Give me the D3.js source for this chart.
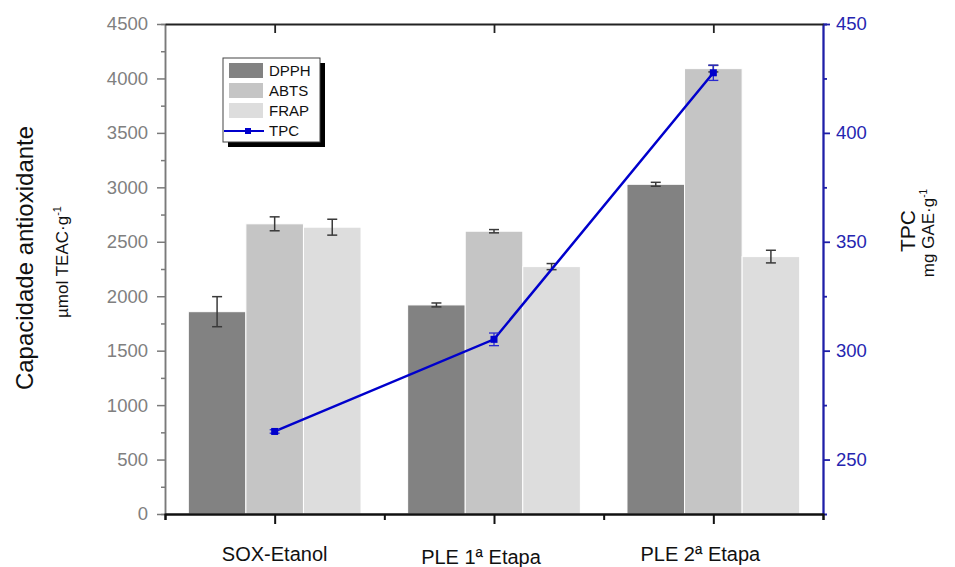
<!DOCTYPE html>
<html>
<head>
<meta charset="utf-8">
<script src="https://cdn.jsdelivr.net/npm/d3@7"></script>
<style>
body { margin: 0; background: #fff; }
text { font-family: "Liberation Sans", Arial, sans-serif; }
</style>
</head>
<body>
<script>
var width = 955;
var height = 567;

var categories = ["SOX-Etanol", "PLE 1ª Etapa", "PLE 2ª Etapa"];
var seriesNames = ["DPPH", "ABTS", "FRAP"];
var seriesColors = ["#828282", "#c5c5c5", "#dddddd"];
var dpph = [1858, 1920, 3028];
var dpphErr = [138, 18, 18];
var abts = [2665, 2597, 4090];
var abtsErr = [64, 15, 30];
var frap = [2634, 2272, 2364];
var frapErr = [73, 28, 58];
var tpc = [262.9, 305.2, 427.6];
var tpcErr = [0.8, 2.9, 3.5];
var leftTicks = [0, 500, 1000, 1500, 2000, 2500, 3000, 3500, 4000, 4500];
var rightTicks = [250, 300, 350, 400, 450];

var series = [
    {name: seriesNames[0], color: seriesColors[0], values: dpph, err: dpphErr},
    {name: seriesNames[1], color: seriesColors[1], values: abts, err: abtsErr},
    {name: seriesNames[2], color: seriesColors[2], values: frap, err: frapErr},
];
var bw = 0.2625;
var tpcColor = "#0000cc";
var rightColor = "#1f1fa8";

var x = d3.scaleLinear().domain([0.5, 3.5]).range([165, 823]);
var yL = d3.scaleLinear().domain([0, 4500]).range([514, 24]);
var yR = d3.scaleLinear().domain([225, 450]).range([514, 24]);

var svg = d3.select("body").append("svg")
    .attr("width", width)
    .attr("height", height)
;

// bars
var bars = [];
series.forEach(function(s, j) {
    s.values.forEach(function(v, i) {
        bars.push({x0: i + 1 + (j - 1.5) * bw, x1: i + 1 + (j - 0.5) * bw, v: v, e: s.err[i], color: s.color});
    });
});

svg.append("g").selectAll("rect")
    .data(bars)
    .enter().append("rect")
    .attr("x", d => x(d.x0))
    .attr("width", d => x(d.x1) - x(d.x0))
    .attr("y", d => yL(d.v))
    .attr("height", d => yL(0) - yL(d.v))
    .attr("fill", d => d.color)
    .attr("stroke", "#fff")
    .attr("stroke-width", 1)
;

function errorBars(g, data, xf, yf, color, width) {
    var eb = g.selectAll("g").data(data).enter().append("g")
        .attr("stroke", color)
        .attr("stroke-width", width);
    eb.append("line")
        .attr("x1", xf).attr("x2", xf)
        .attr("y1", d => yf(d.v + d.e)).attr("y2", d => yf(d.v - d.e));
    eb.append("line")
        .attr("x1", d => xf(d) - 5).attr("x2", d => xf(d) + 5)
        .attr("y1", d => yf(d.v + d.e)).attr("y2", d => yf(d.v + d.e));
    eb.append("line")
        .attr("x1", d => xf(d) - 5).attr("x2", d => xf(d) + 5)
        .attr("y1", d => yf(d.v - d.e)).attr("y2", d => yf(d.v - d.e));
}

errorBars(svg.append("g"), bars, d => x((d.x0 + d.x1) / 2), yL, "#3a3a3a", 1.5);

// TPC line
var tpcData = tpc.map((v, i) => ({c: i + 1, v: v, e: tpcErr[i]}));
var line = d3.line()
    .x(d => x(d.c))
    .y(d => yR(d.v))
;
svg.append("path")
    .datum(tpcData)
    .attr("d", line)
    .attr("fill", "none")
    .attr("stroke", tpcColor)
    .attr("stroke-width", 2.5)
;
errorBars(svg.append("g"), tpcData, d => x(d.c), yR, "#2a2ad0", 1.3);
svg.append("g").selectAll("rect")
    .data(tpcData)
    .enter().append("rect")
    .attr("x", d => x(d.c) - 3.5)
    .attr("y", d => yR(d.v) - 3.5)
    .attr("width", 7)
    .attr("height", 7)
    .attr("fill", tpcColor)
;

// axes
function styleAxis(g, color, w) {
    g.selectAll("path").attr("stroke", color).attr("stroke-width", w);
    g.selectAll("line").attr("stroke", color).attr("stroke-width", w);
}

var gl = svg.append("g")
    .attr("transform", `translate(${x(0.5)},0)`)
    .call(d3.axisLeft(yL).tickValues(leftTicks).tickFormat(d3.format("d")).tickSize(8).tickSizeOuter(0).tickPadding(9));
styleAxis(gl, "#7a7a7a", 1.5);
gl.selectAll("text").attr("fill", "#808080").attr("font-size", 18.5).style("font-family", "Liberation Sans, Arial, sans-serif");
var glm = svg.append("g")
    .attr("transform", `translate(${x(0.5)},0)`)
    .call(d3.axisLeft(yL).tickValues(leftTicks.slice(1).map(d => d - 250)).tickSize(4).tickFormat(""));
styleAxis(glm, "#7a7a7a", 1.5);

var gr = svg.append("g")
    .attr("transform", `translate(${x(3.5)},0)`)
    .call(d3.axisRight(yR).tickValues(rightTicks).tickSize(7).tickSizeOuter(0).tickPadding(6));
styleAxis(gr, rightColor, 1.8);
gr.selectAll("text").attr("fill", "#2525b0").attr("font-size", 18.5).style("font-family", "Liberation Sans, Arial, sans-serif");
var grm = svg.append("g")
    .attr("transform", `translate(${x(3.5)},0)`)
    .call(d3.axisRight(yR).tickValues(rightTicks.slice(1).map(d => d - 25)).tickSize(4).tickFormat(""));
styleAxis(grm, rightColor, 1.8);

var gb = svg.append("g")
    .attr("transform", `translate(0,${yL(0)})`)
    .call(d3.axisBottom(x).tickValues([1, 2, 3]).tickSize(10).tickSizeOuter(0).tickFormat(""));
styleAxis(gb, "#111", 2);
var gbm = svg.append("g")
    .attr("transform", `translate(0,${yL(0)})`)
    .call(d3.axisBottom(x).tickValues([0.5, 1.5, 2.5, 3.5]).tickSize(6).tickFormat(""));
styleAxis(gbm, "#111", 2);

var gt = svg.append("g")
    .attr("transform", `translate(0,${yL(4500)})`)
    .call(d3.axisBottom(x).tickValues([1, 2, 3]).tickSize(9).tickSizeOuter(0).tickFormat(""));
styleAxis(gt, "#222", 1.8);

svg.append("g").selectAll("text")
    .data(categories)
    .enter().append("text")
    .attr("x", (d, i) => x(i + 1) + (i === 0 ? 0 : -13))
    .attr("y", (d, i) => i === 1 ? 564 : 561)
    .attr("text-anchor", "middle")
    .attr("font-size", 20)
    .attr("fill", "#111")
    .text(d => d)
;

// axis titles
svg.append("text")
    .attr("transform", "translate(33,258) rotate(-90)")
    .attr("text-anchor", "middle")
    .attr("font-size", 24)
    .attr("fill", "#111")
    .text("Capacidade antioxidante");

var sub = svg.append("text")
    .attr("transform", "translate(68,262) rotate(-90)")
    .attr("text-anchor", "middle")
    .attr("font-size", 17)
    .attr("fill", "#111");
sub.append("tspan").text("µmol TEAC·g");
sub.append("tspan").attr("font-size", 11).attr("dy", -7).text("-1");

svg.append("text")
    .attr("transform", "translate(915,231) rotate(-90)")
    .attr("text-anchor", "middle")
    .attr("font-size", 21)
    .attr("fill", "#111")
    .text("TPC");

var sub2 = svg.append("text")
    .attr("transform", "translate(934,233) rotate(-90)")
    .attr("text-anchor", "middle")
    .attr("font-size", 17)
    .attr("fill", "#111");
sub2.append("tspan").text("mg GAE·g");
sub2.append("tspan").attr("font-size", 10).attr("dy", -7).text("-1");

// legend
var lg = svg.append("g");
lg.append("rect")
    .attr("x", 228).attr("y", 63).attr("width", 97).attr("height", 84)
    .attr("fill", "#000");
lg.append("rect")
    .attr("x", 223).attr("y", 58).attr("width", 97).attr("height", 84)
    .attr("fill", "#fff").attr("stroke", "#444").attr("stroke-width", 1);

var items = lg.selectAll("g.item")
    .data(series)
    .enter().append("g")
    .attr("class", "item")
    .attr("transform", (d, i) => `translate(229,${63 + i * 20})`);
items.append("rect")
    .attr("width", 34).attr("height", 15)
    .attr("fill", d => d.color);
items.append("text")
    .attr("x", 40).attr("y", 13)
    .attr("font-size", 15)
    .attr("fill", "#111")
    .text(d => d.name);

lg.append("line")
    .attr("x1", 224).attr("x2", 264).attr("y1", 131).attr("y2", 131)
    .attr("stroke", tpcColor).attr("stroke-width", 2);
lg.append("rect")
    .attr("x", 245).attr("y", 128).attr("width", 6).attr("height", 6)
    .attr("fill", tpcColor);
lg.append("text")
    .attr("x", 269).attr("y", 136)
    .attr("font-size", 15)
    .attr("fill", "#111")
    .text("TPC");
</script>
</body>
</html>
